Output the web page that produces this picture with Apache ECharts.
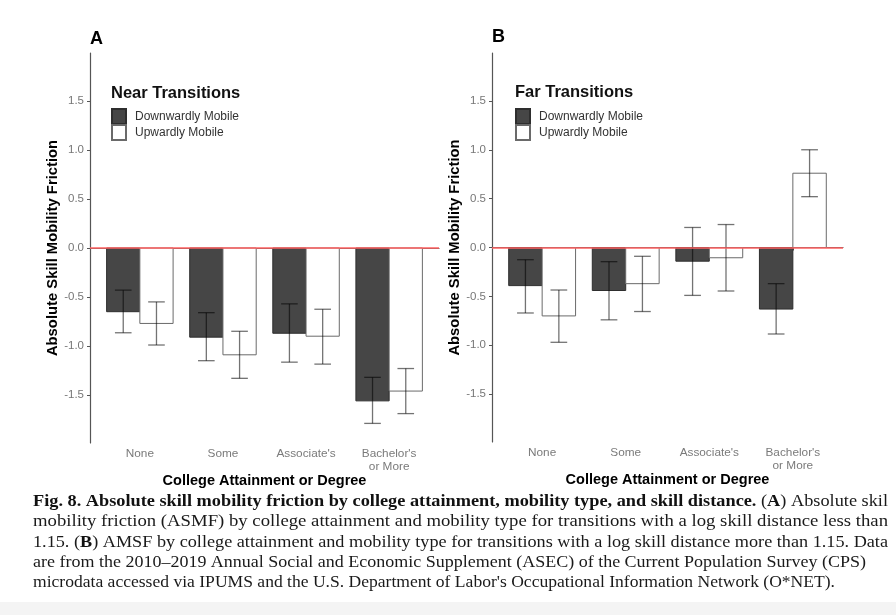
<!DOCTYPE html>
<html>
<head>
<meta charset="utf-8">
<script src="https://cdn.jsdelivr.net/npm/echarts@6/dist/echarts.min.js"></script>
<style>
html, body { margin: 0; padding: 0; background: #fff; }
#main { width: 896px; height: 615px; }
</style>
</head>
<body>
<div id="main"></div>
<script>
var categories = ['None', 'Some', "Associate's", "Bachelor's\nor More"]
var yTicks = [-1.5, -1.0, -0.5, 0.0, 0.5, 1.0, 1.5]

// A: near transitions
var nearDown = [-0.65, -0.91, -0.87, -1.56]
var nearDownLow = [-0.865, -1.15, -1.165, -1.79]
var nearDownHigh = [-0.43, -0.66, -0.57, -1.32]
var nearUp = [-0.77, -1.09, -0.90, -1.46]
var nearUpLow = [-0.99, -1.33, -1.185, -1.69]
var nearUpHigh = [-0.55, -0.85, -0.625, -1.23]

// B: far transitions
var farDown = [-0.39, -0.44, -0.14, -0.63]
var farDownLow = [-0.67, -0.74, -0.49, -0.885]
var farDownHigh = [-0.125, -0.145, 0.205, -0.37]
var farUp = [-0.70, -0.37, -0.105, 0.76]
var farUpLow = [-0.97, -0.655, -0.445, 0.52]
var farUpHigh = [-0.435, -0.09, 0.235, 1.0]

var chart = echarts.init(document.getElementById('main'))
var FONT = 'Liberation Sans'
var SERIF = 'Liberation Serif'
var darkFill = '#464646', darkEdge = '#2e2e2e'
var lightEdge = '#6a6a6a'
var errColor = 'rgba(0,0,0,0.55)'

function barRender(side) {
    return function (params, api) {
        var x = api.value(0), v = api.value(1)
        var p0 = api.coord([x + side * 0.4, 0])
        var p1 = api.coord([x, v])
        return {
            type: 'rect',
            shape: {
                x: Math.min(p0[0], p1[0]),
                y: Math.min(p0[1], p1[1]),
                width: Math.abs(p1[0] - p0[0]),
                height: Math.abs(p1[1] - p0[1])
            },
            style: {
                fill: side < 0 ? darkFill : '#fff',
                stroke: side < 0 ? darkEdge : lightEdge,
                lineWidth: 1
            }
        }
    }
}

function errRender(params, api) {
    var x = api.value(0), lo = api.value(1), hi = api.value(2)
    var a = api.coord([x, hi]), b = api.coord([x, lo])
    var l = api.coord([x - 0.1, hi])[0], r = api.coord([x + 0.1, hi])[0]
    var st = { stroke: errColor, lineWidth: 1.3 }
    return {
        type: 'group',
        children: [
            { type: 'line', shape: { x1: a[0], y1: a[1], x2: b[0], y2: b[1] }, style: st },
            { type: 'line', shape: { x1: l, y1: a[1], x2: r, y2: a[1] }, style: st },
            { type: 'line', shape: { x1: l, y1: b[1], x2: r, y2: b[1] }, style: st }
        ]
    }
}

function barData(vals) {
    return vals.map(function (v, i) { return [i + 1, v] })
}
function errData(lo, hi, side) {
    return lo.map(function (v, i) { return [i + 1 + side * 0.2, v, hi[i]] })
}

function panelSeries(idx, down, up, downLo, downHi, upLo, upHi) {
    return [
        {
            name: 'Downwardly Mobile', type: 'custom', xAxisIndex: idx, yAxisIndex: idx,
            renderItem: barRender(-1), data: barData(down), z: 2,
            itemStyle: { color: darkFill, borderColor: darkEdge, borderWidth: 1 },
            encode: { x: 0, y: 1 }
        },
        {
            name: 'Upwardly Mobile', type: 'custom', xAxisIndex: idx, yAxisIndex: idx,
            renderItem: barRender(1), data: barData(up), z: 3,
            itemStyle: { color: '#fff', borderColor: lightEdge, borderWidth: 1 },
            encode: { x: 0, y: 1 },
            markLine: {
                silent: true, symbol: ['none', 'none'], label: { show: false },
                lineStyle: { color: '#ff6060', width: 1.7, type: 'solid' },
                data: [{ yAxis: 0 }]
            }
        },
        {
            type: 'custom', xAxisIndex: idx, yAxisIndex: idx, z: 4,
            renderItem: errRender, data: errData(downLo, downHi, -1),
            encode: { x: 0, y: [1, 2] }
        },
        {
            type: 'custom', xAxisIndex: idx, yAxisIndex: idx, z: 4,
            renderItem: errRender, data: errData(upLo, upHi, 1),
            encode: { x: 0, y: [1, 2] }
        }
    ]
}

function xAxisFor(idx) {
    return {
        type: 'value', gridIndex: idx, min: 0.4, max: 4.6,
        name: 'College Attainment or Degree', nameLocation: 'middle', nameGap: 30,
        nameMoveOverlap: false,
        nameTextStyle: { fontFamily: FONT, fontSize: 14.5, fontWeight: 'bold', color: '#000' },
        axisLine: { lineStyle: { color: '#555', width: 1.2 } },
        axisTick: { show: true, length: 3, customValues: [1, 2, 3, 4], lineStyle: { color: '#555' } },
        axisLabel: {
            customValues: [1, 2, 3, 4], margin: 4, fontFamily: FONT, fontSize: 11.8,
            color: '#7a7a7a', lineHeight: 13,
            formatter: function (v) { return categories[Math.round(v) - 1] }
        },
        splitLine: { show: false }
    }
}

function yAxisFor(idx) {
    return {
        type: 'value', gridIndex: idx, min: -1.99, max: 1.99,
        name: 'Absolute Skill Mobility Friction', nameLocation: 'middle', nameGap: 26,
        nameTextStyle: { fontFamily: FONT, fontSize: 14.8, fontWeight: 'bold', color: '#000' },
        axisLine: { show: true, lineStyle: { color: '#555', width: 1.2 } },
        axisTick: { show: true, length: 3, customValues: yTicks, lineStyle: { color: '#555' } },
        axisLabel: {
            customValues: yTicks, margin: 6, fontFamily: FONT, fontSize: 11.5, color: '#777',
            formatter: function (v) { return v.toFixed(1) }
        },
        splitLine: { show: false }
    }
}

function legendFor(left) {
    return {
        left: left, top: 108, orient: 'vertical', icon: 'rect',
        itemWidth: 14, itemHeight: 15, itemGap: -1, padding: 0, selectedMode: false,
        data: ['Downwardly Mobile', 'Upwardly Mobile'],
        textStyle: { fontFamily: FONT, fontSize: 12, lineHeight: 15, color: '#333', padding: [0, 0, 0, 4] }
    }
}

var captionLines = [
    '{b|Fig. 8. Absolute skill mobility friction by college attainment, mobility type, and skill distance.} ({b|A}) Absolute skil',
    'mobility friction (ASMF) by college attainment and mobility type for transitions with a log skill distance less than',
    '1.15. ({b|B}) AMSF by college attainment and mobility type for transitions with a log skill distance more than 1.15. Data',
    'are from the 2010\u20132019 Annual Social and Economic Supplement (ASEC) of the Current Population Survey (CPS)',
    "microdata accessed via IPUMS and the U.S. Department of Labor's Occupational Information Network (O*NET)."
]
var captionTop = [493, 513, 534, 554, 574]
var captionWidth = [855, 855, 855, 833, 802]
var CAP_SIZE = 17

// measure a caption line (with {b|...} bold pieces) so it can be stretched like the justified original
var measureCtx = document.createElement('canvas').getContext('2d')
function lineWidth(line) {
    var w = 0
    var re = /\{b\|([^}]*)\}|([^{]+)/g, m
    while ((m = re.exec(line)) !== null) {
        if (m[1] !== undefined) {
            measureCtx.font = 'bold ' + CAP_SIZE + 'px "' + SERIF + '"'
            w += measureCtx.measureText(m[1]).width
        } else {
            measureCtx.font = CAP_SIZE + 'px "' + SERIF + '"'
            w += measureCtx.measureText(m[2]).width
        }
    }
    return w
}

var graphics = [
    { type: 'rect', left: 0, top: 602, shape: { width: 896, height: 13 }, style: { fill: '#f4f4f4' }, silent: true }
]
captionLines.forEach(function (line, i) {
    var s = captionWidth[i] / lineWidth(line)
    graphics.push({
        type: 'text', x: 33, y: captionTop[i], scaleX: s, silent: true,
        style: {
            text: line, fill: '#1a1a1a', font: CAP_SIZE + 'px "' + SERIF + '"', verticalAlign: 'top',
            rich: { b: { fontFamily: SERIF, fontSize: CAP_SIZE, fontWeight: 'bold', fill: '#111' } }
        }
    })
})

var option = {
    backgroundColor: '#fff',
    animation: false,
    title: [
        { text: 'A', left: 90, top: 30, padding: 0, textStyle: { fontFamily: FONT, fontSize: 18, fontWeight: 'bold', color: '#000' } },
        { text: 'B', left: 492, top: 28, padding: 0, textStyle: { fontFamily: FONT, fontSize: 18, fontWeight: 'bold', color: '#000' } },
        { text: 'Near Transitions', left: 111, top: 85, padding: 0, textStyle: { fontFamily: FONT, fontSize: 16.5, fontWeight: 'bold', color: '#111' } },
        { text: 'Far Transitions', left: 515, top: 84, padding: 0, textStyle: { fontFamily: FONT, fontSize: 16.5, fontWeight: 'bold', color: '#111' } }
    ],
    legend: [legendFor(111), legendFor(515)],
    grid: [
        { left: 90, top: 53, width: 349, height: 390 },
        { left: 492, top: 53, width: 351, height: 389 }
    ],
    xAxis: [xAxisFor(0), xAxisFor(1)],
    yAxis: [yAxisFor(0), yAxisFor(1)],
    series: panelSeries(0, nearDown, nearUp, nearDownLow, nearDownHigh, nearUpLow, nearUpHigh)
        .concat(panelSeries(1, farDown, farUp, farDownLow, farDownHigh, farUpLow, farUpHigh)),
    graphic: graphics
}

chart.setOption(option)
</script>
</body>
</html>
